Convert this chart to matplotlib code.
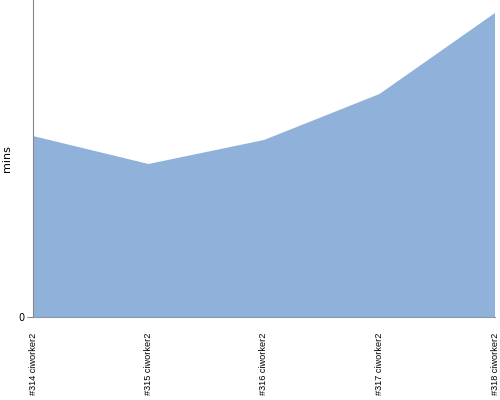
import matplotlib
matplotlib.use('Agg')
import matplotlib.pyplot as plt

# dados
builds = ['#314 ciworker2', '#315 ciworker2', '#316 ciworker2', '#317 ciworker2', '#318 ciworker2']
mins = [181, 153, 177, 223, 304]

fig = plt.figure(figsize=(5, 4), dpi=100)
ax = fig.add_axes([0.066, 0.2075, 0.924, 0.7925])

x = range(len(builds))
ax.fill_between(x, mins, 0, facecolor='#8fb1da', edgecolor='none')

ax.set_xlim(0, len(builds) - 1)
ax.set_ylim(0, 317)
ax.set_yticks([0])
ax.set_yticklabels(['0'], fontsize=7)
ax.set_xticks(list(x))
ax.set_xticklabels(builds, rotation=90, fontsize=6.6, va='top',
                   family='Liberation Sans')
ax.tick_params(axis='x', length=0, pad=11)
ax.tick_params(axis='y', length=4, color='#888888', pad=2)
ax.set_ylabel('mins', fontsize=8)
ax.yaxis.set_label_coords(-0.045, 0.5)

for s in ['top', 'right']:
    ax.spines[s].set_visible(False)
ax.spines['left'].set_color('#888888')
ax.spines['bottom'].set_color('#8899aa')

fig.savefig('out.png', dpi=100)
